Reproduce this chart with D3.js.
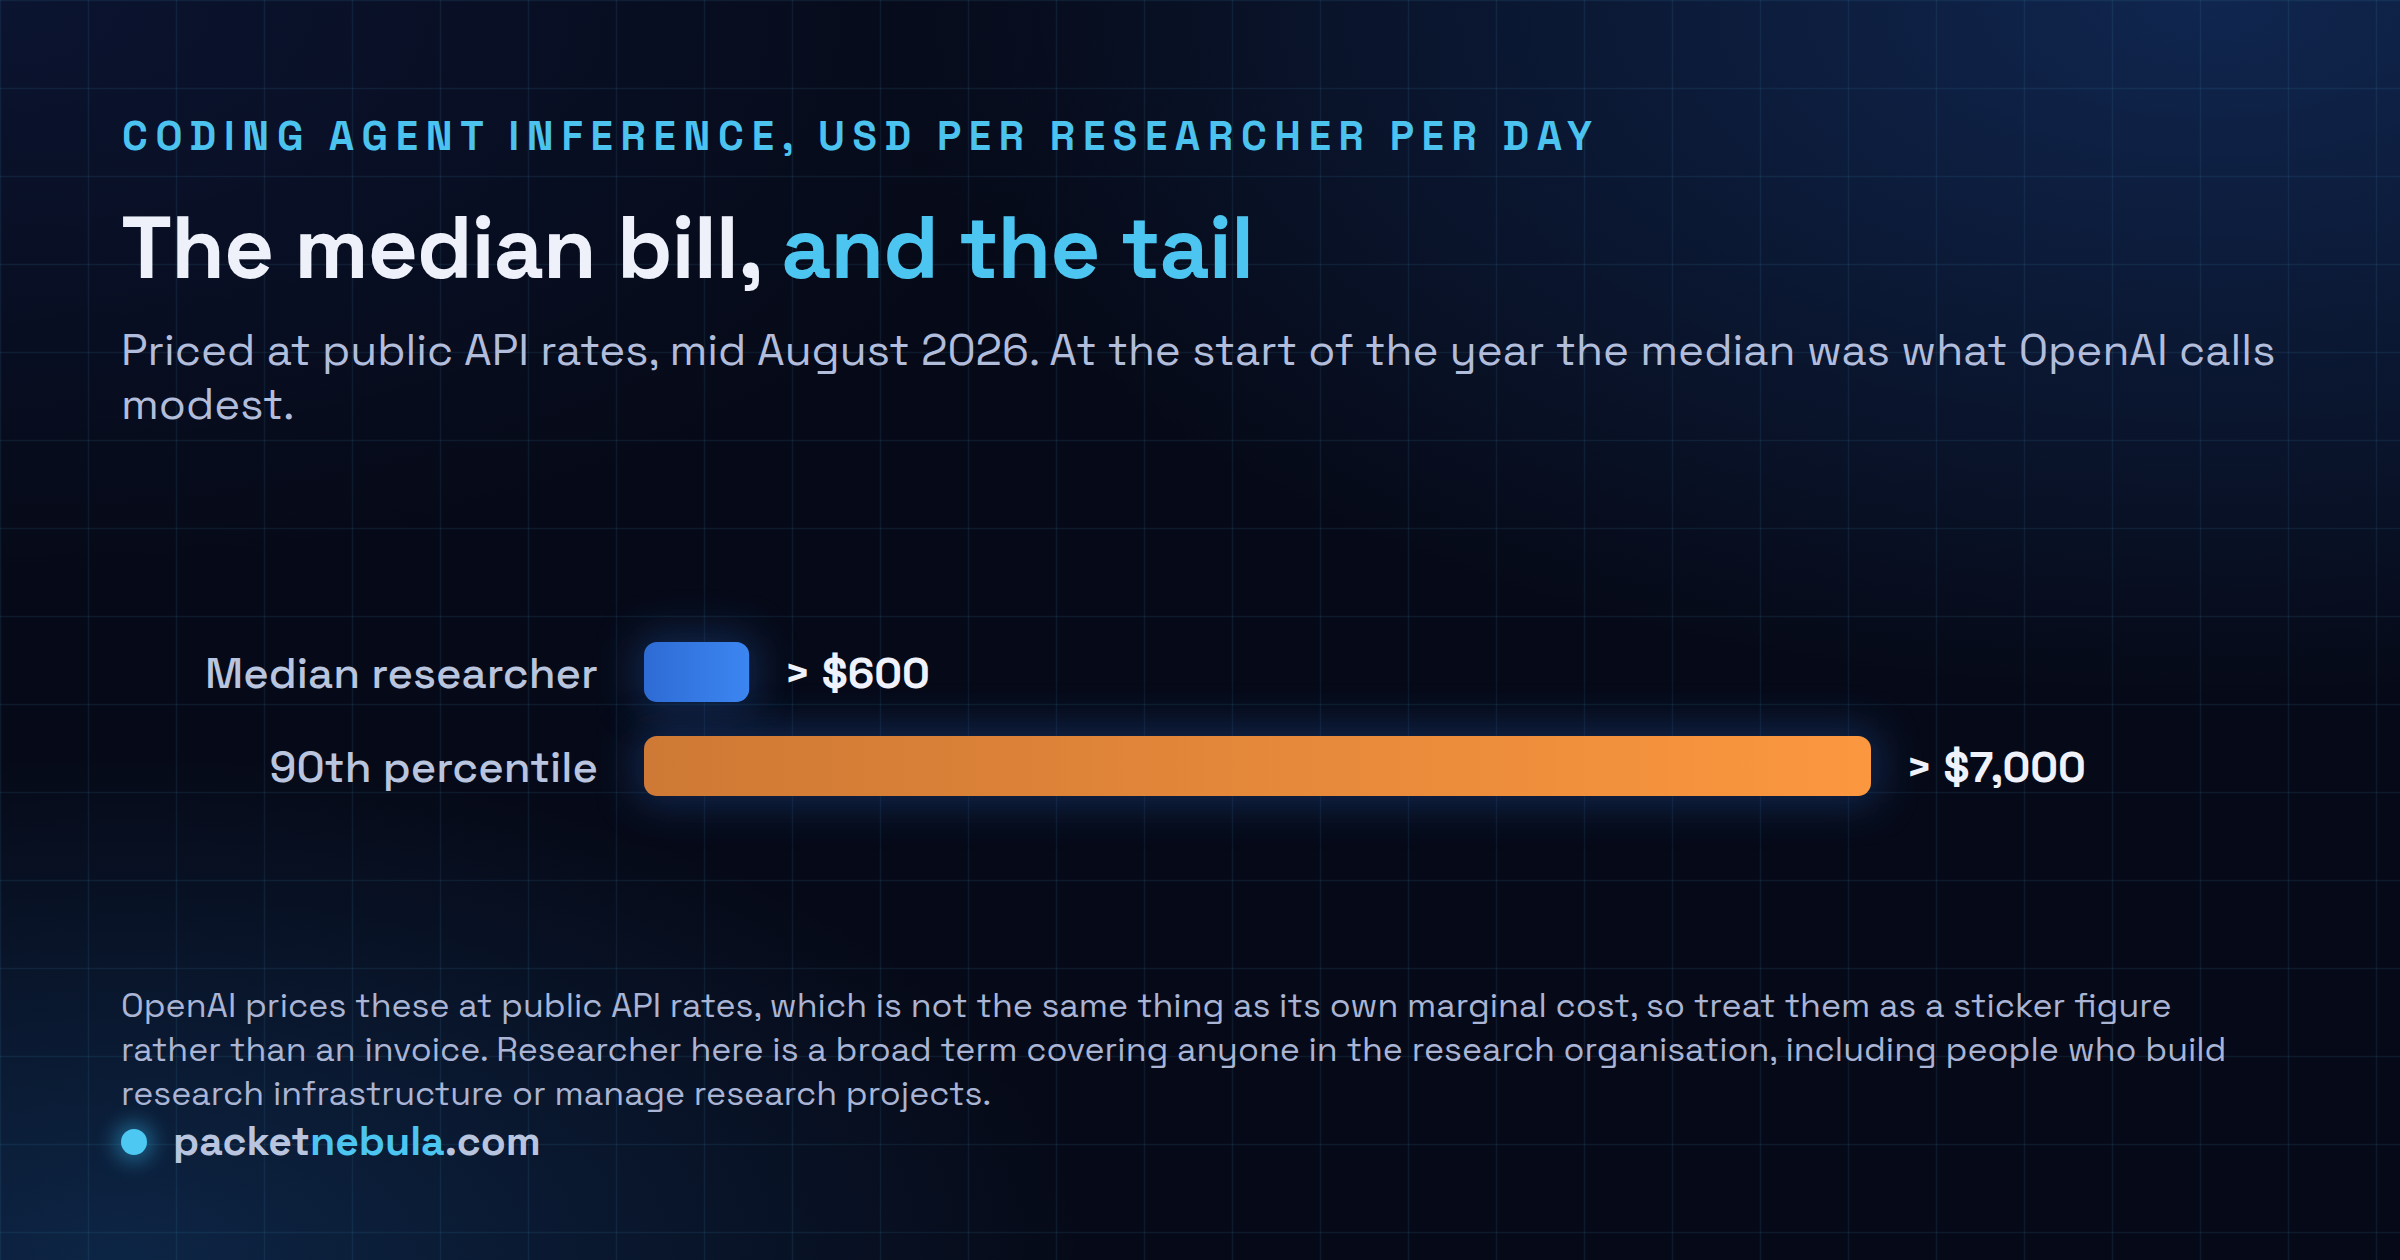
<!DOCTYPE html>
<html>
<head>
<meta charset="utf-8">
<script src="https://cdn.jsdelivr.net/npm/d3@7"></script>
<style>
  html, body { margin: 0; padding: 0; background: #060a18; }
  svg { display: block; }
</style>
</head>
<body>
<div id="chart"></div>
<script>
// Chart data
var categories = ["Median researcher", "90th percentile"];
var values = [600, 7000];
var valueLabels = ["> $600", "> $7,000"];
var domainMax = 7000;

var kicker = "CODING AGENT INFERENCE, USD PER RESEARCHER PER DAY";
var titleParts = ["The median bill, ", "and the tail"];
var subtitleLines = [
  "Priced at public API rates, mid August 2026. At the start of the year the median was what OpenAI calls",
  "modest."
];
var noteLines = [
  "OpenAI prices these at public API rates, which is not the same thing as its own marginal cost, so treat them as a sticker figure",
  "rather than an invoice. Researcher here is a broad term covering anyone in the research organisation, including people who build",
  "research infrastructure or manage research projects."
];
var brandParts = ["packet", "nebula", ".com"];

// SVG area
var svgWidth = 2400;
var svgHeight = 1260;
var font = "'Space Grotesk', Inter, 'Noto Sans', sans-serif";

var svg = d3.select("#chart")
  .append("svg")
  .attr("width", svgWidth)
  .attr("height", svgHeight);

var defs = svg.append("defs");

// background glows
var glowTR = defs.append("radialGradient").attr("id", "glowTR")
  .attr("cx", 0.92).attr("cy", 0.0).attr("r", 0.55);
glowTR.append("stop").attr("offset", 0).attr("stop-color", "#10264f").attr("stop-opacity", 1);
glowTR.append("stop").attr("offset", 1).attr("stop-color", "#10264f").attr("stop-opacity", 0);

var glowBL = defs.append("radialGradient").attr("id", "glowBL")
  .attr("cx", 0.05).attr("cy", 1.0).attr("r", 0.4);
glowBL.append("stop").attr("offset", 0).attr("stop-color", "#0d2545").attr("stop-opacity", 1);
glowBL.append("stop").attr("offset", 1).attr("stop-color", "#0d2545").attr("stop-opacity", 0);

var glowTL = defs.append("radialGradient").attr("id", "glowTL")
  .attr("cx", 0.0).attr("cy", 0.0).attr("r", 0.45);
glowTL.append("stop").attr("offset", 0).attr("stop-color", "#0b1430").attr("stop-opacity", 1);
glowTL.append("stop").attr("offset", 1).attr("stop-color", "#0b1430").attr("stop-opacity", 0);

svg.append("rect").attr("width", svgWidth).attr("height", svgHeight).attr("fill", "#060a18");
svg.append("rect").attr("width", svgWidth).attr("height", svgHeight).attr("fill", "url(#glowTL)");
svg.append("rect").attr("width", svgWidth).attr("height", svgHeight).attr("fill", "url(#glowTR)");
svg.append("rect").attr("width", svgWidth).attr("height", svgHeight).attr("fill", "url(#glowBL)");

// grid
var gridStep = 88;
var grid = svg.append("g").attr("stroke", "rgba(70,160,200,0.11)").attr("stroke-width", 1.5);
grid.selectAll("line.v")
  .data(d3.range(0, svgWidth + 1, gridStep))
  .enter().append("line").attr("class", "v")
  .attr("x1", d => d + 0.5).attr("x2", d => d + 0.5)
  .attr("y1", 0).attr("y2", svgHeight);
grid.selectAll("line.h")
  .data(d3.range(0, svgHeight + 1, gridStep))
  .enter().append("line").attr("class", "h")
  .attr("x1", 0).attr("x2", svgWidth)
  .attr("y1", d => d + 0.5).attr("y2", d => d + 0.5);

// fit a text to a measured width by scaling its font size
function fitWidth(sel, target) {
  var node = sel.node();
  var w = node.getComputedTextLength();
  var size = parseFloat(sel.attr("font-size"));
  if (w > 0) sel.attr("font-size", size * target / w);
}

var left = 121;

// kicker
svg.append("text")
  .attr("x", left + 1).attr("y", 150)
  .attr("font-family", font).attr("font-size", 40).attr("font-weight", 700)
  .attr("fill", "#4cc3ef")
  .attr("textLength", 1470).attr("lengthAdjust", "spacing")
  .text(kicker);

// title
var title = svg.append("text")
  .attr("x", left).attr("y", 278)
  .attr("font-family", font).attr("font-size", 86).attr("font-weight", 700)
  .attr("letter-spacing", -1);
title.append("tspan").attr("fill", "#eef0fa").text(titleParts[0]);
title.append("tspan").attr("fill", "#4cc6f0").text(titleParts[1]);
fitWidth(title, 1132);

// subtitle
var sub = svg.append("g");
subtitleLines.forEach(function(line, i) {
  var t = sub.append("text")
    .attr("x", left).attr("y", 365 + i * 54)
    .attr("font-family", font).attr("font-size", 42).attr("font-weight", 400)
    .attr("fill", "#b2bddc")
    .text(line);
  if (i === 0) fitWidth(t, 2155);
});
var subSize = sub.select("text").attr("font-size");
sub.selectAll("text").attr("font-size", subSize);

// chart scales
var xScale = d3.scaleLinear()
  .domain([0, domainMax])
  .range([644, 1871]);

var yScale = d3.scaleBand()
  .domain(categories)
  .range([642, 796])
  .paddingInner(34 / 94)
  .paddingOuter(0);

var barGrads = [["#2e6bd4", "#3c86f2"], ["#ce7935", "#fb973f"]];
barGrads.forEach(function(c, i) {
  var g = defs.append("linearGradient").attr("id", "bar" + i)
    .attr("x1", 0).attr("x2", 1).attr("y1", 0).attr("y2", 0);
  g.append("stop").attr("offset", 0).attr("stop-color", c[0]);
  g.append("stop").attr("offset", 1).attr("stop-color", c[1]);
});

var blur = defs.append("filter").attr("id", "blur")
  .attr("x", "-50%").attr("y", "-100%").attr("width", "200%").attr("height", "300%");
blur.append("feGaussianBlur").attr("stdDeviation", 20);

var chartGroup = svg.append("g");
var rows = categories.map(function(c, i) { return { cat: c, value: values[i], label: valueLabels[i], i: i }; });

// glow behind bars
chartGroup.selectAll("rect.glow")
  .data(rows)
  .enter().append("rect").attr("class", "glow")
  .attr("x", xScale(0) - 8)
  .attr("y", d => yScale(d.cat) - 8)
  .attr("width", d => xScale(d.value) - xScale(0) + 16)
  .attr("height", yScale.bandwidth() + 16)
  .attr("rx", 20)
  .attr("fill", "#1a4585")
  .attr("opacity", 0.5)
  .attr("filter", "url(#blur)");

chartGroup.selectAll("rect.bar")
  .data(rows)
  .enter().append("rect").attr("class", "bar")
  .attr("x", xScale(0))
  .attr("y", d => yScale(d.cat))
  .attr("width", d => xScale(d.value) - xScale(0))
  .attr("height", yScale.bandwidth())
  .attr("rx", 13)
  .attr("fill", d => "url(#bar" + d.i + ")");

// category labels
var catLabels = chartGroup.selectAll("text.cat")
  .data(rows)
  .enter().append("text").attr("class", "cat")
  .attr("x", xScale(0) - 46)
  .attr("y", d => yScale(d.cat) + yScale.bandwidth() / 2 + 16)
  .attr("text-anchor", "end")
  .attr("font-family", font).attr("font-size", 42).attr("font-weight", 500)
  .attr("fill", "#b9c4de")
  .text(d => d.cat);
fitWidth(d3.select(catLabels.nodes()[0]), 393);
catLabels.attr("font-size", d3.select(catLabels.nodes()[0]).attr("font-size"));

// value labels
var valLabels = chartGroup.selectAll("text.val")
  .data(rows)
  .enter().append("text").attr("class", "val")
  .attr("x", d => xScale(d.value) + 35)
  .attr("y", d => yScale(d.cat) + yScale.bandwidth() / 2 + 16)
  .attr("font-family", font).attr("font-size", 43).attr("font-weight", 700)
  .attr("fill", "#f0f2fb")
  .text(d => d.label);
fitWidth(d3.select(valLabels.nodes()[1]), 180);
valLabels.attr("font-size", d3.select(valLabels.nodes()[1]).attr("font-size"));

// footnote
var note = svg.append("g");
noteLines.forEach(function(line, i) {
  var t = note.append("text")
    .attr("x", left).attr("y", 1017 + i * 44)
    .attr("font-family", font).attr("font-size", 32).attr("font-weight", 400)
    .attr("fill", "#aab4d4")
    .text(line);
  if (i === 0) fitWidth(t, 2051);
});
note.selectAll("text").attr("font-size", note.select("text").attr("font-size"));

// brand
var dotGlow = defs.append("filter").attr("id", "dotGlow")
  .attr("x", "-200%").attr("y", "-200%").attr("width", "500%").attr("height", "500%");
dotGlow.append("feGaussianBlur").attr("stdDeviation", 10);

svg.append("circle").attr("cx", 134).attr("cy", 1142).attr("r", 20)
  .attr("fill", "#2d9fd0").attr("opacity", 0.5).attr("filter", "url(#dotGlow)");
svg.append("circle").attr("cx", 134).attr("cy", 1142).attr("r", 13)
  .attr("fill", "#4cc8f2");

var brand = svg.append("text")
  .attr("x", 173).attr("y", 1155)
  .attr("font-family", font).attr("font-size", 38).attr("font-weight", 600);
brand.append("tspan").attr("fill", "#b9c4de").text(brandParts[0]);
brand.append("tspan").attr("fill", "#4cc6f0").text(brandParts[1]);
brand.append("tspan").attr("fill", "#b9c4de").text(brandParts[2]);
fitWidth(brand, 368);
</script>
</body>
</html>
